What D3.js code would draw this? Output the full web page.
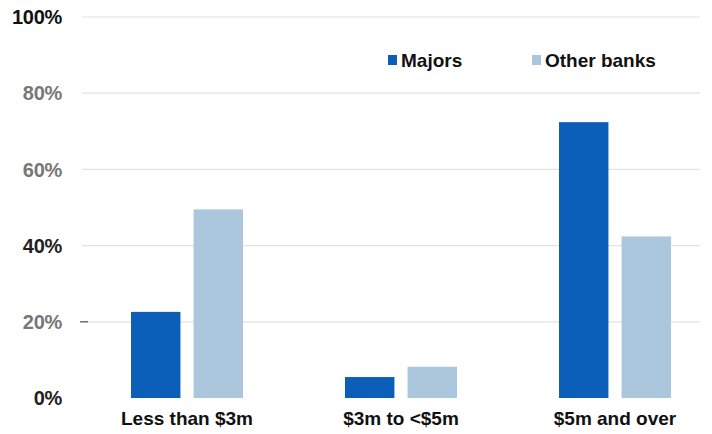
<!DOCTYPE html>
<html><head><meta charset="utf-8">
<script src="https://cdn.jsdelivr.net/npm/d3@7"></script>
<style>body{margin:0;background:#fff}svg{display:block}text{font-family:"Liberation Sans",Arial,sans-serif;font-weight:bold}</style>
</head><body><svg id="c" width="712" height="434"></svg>
<script>
const categories = ["Less than $3m", "$3m to <$5m", "$5m and over"];
const seriesNames = ["Majors", "Other banks"];
const majors = [22.6, 5.5, 72.4];
const otherBanks = [49.5, 8.2, 42.4];
const yTicks = [0, 20, 40, 60, 80, 100];
const tickColors = ["#222", "#777", "#222", "#777", "#777", "#111"];
const colors = ["#0b5fb9", "#aac7de"];

const svg = d3.select("#c");
const y = d3.scaleLinear().domain([0, 100]).range([398, 17]);
const x0 = d3.scaleBand().domain(categories).range([80, 722]).padding(0);
const x1 = d3.scaleBand().domain(seriesNames).range([-56, 56]).paddingInner(0.21);

// gridlines
svg.append("g").selectAll("line").data(yTicks.filter(d => d > 0)).join("line")
  .attr("x1", 82).attr("x2", 700)
  .attr("y1", d => y(d)).attr("y2", d => y(d))
  .attr("stroke", "#e2e2e2").attr("stroke-width", 1.2);

// y labels
svg.append("g").selectAll("text").data(yTicks).join("text")
  .attr("x", 62).attr("y", d => y(d)).attr("dy", "0.36em")
  .attr("text-anchor", "end").attr("font-size", 20).attr("letter-spacing", -0.3)
  .attr("fill", (d, i) => tickColors[i])
  .text(d => d + "%");

// small tick at 20%
svg.append("line").attr("x1", 80).attr("x2", 88).attr("y1", y(20)).attr("y2", y(20))
  .attr("stroke", "#555").attr("stroke-width", 1.2);

const data = categories.map((c, i) => ({c, vals: [majors[i], otherBanks[i]]}));
const groups = svg.append("g").selectAll("g").data(data).join("g")
  .attr("transform", d => `translate(${x0(d.c) + x0.bandwidth() / 2},0)`);
groups.selectAll("rect").data(d => d.vals.map((v, k) => ({v, s: seriesNames[k], k}))).join("rect")
  .attr("x", d => x1(d.s)).attr("width", x1.bandwidth())
  .attr("y", d => y(d.v)).attr("height", d => y(0) - y(d.v))
  .attr("fill", d => colors[d.k]);

// x labels
svg.append("g").selectAll("text").data(categories).join("text")
  .attr("x", d => x0(d) + x0.bandwidth() / 2).attr("y", 425)
  .attr("text-anchor", "middle").attr("font-size", 19).attr("fill", "#111")
  .text(d => d);

// legend
const legendX = [388, 532];
const lg = svg.append("g").selectAll("g").data(seriesNames).join("g")
  .attr("transform", (d, i) => `translate(${legendX[i]},60)`);
lg.append("rect").attr("x", 0).attr("y", -5).attr("width", 9).attr("height", 10)
  .attr("fill", (d, i) => colors[i]);
lg.append("text").attr("x", 13).attr("y", 0).attr("dy", "0.36em")
  .attr("font-size", 19).attr("fill", "#111").text(d => d);
</script></body></html>
